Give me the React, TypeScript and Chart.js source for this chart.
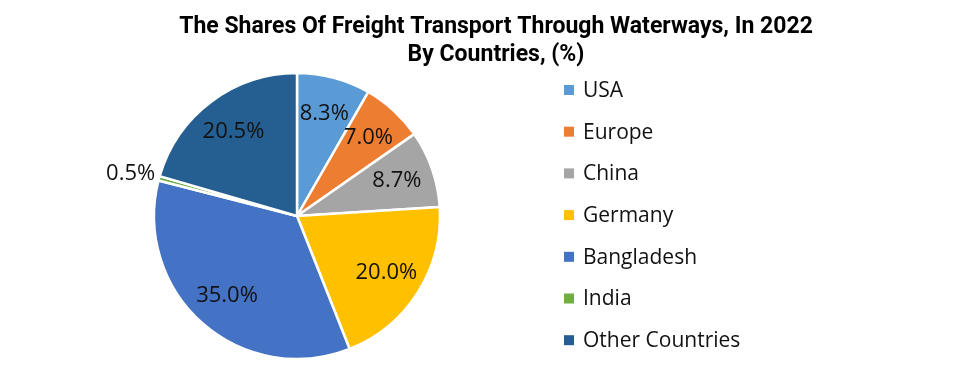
import React, { useEffect, useRef } from "react";
import { Chart, registerables } from "chart.js";

Chart.register(...registerables);

const TITLE_LINES = ["The Shares Of Freight Transport Through Waterways, In 2022", "By Countries, (%)"];
const CATEGORIES = ["USA", "Europe", "China", "Germany", "Bangladesh", "India", "Other Countries"];
const SHARES = [8.3, 7.0, 8.7, 20.0, 35.0, 0.5, 20.5];
const COLORS = ["#5B9BD5", "#ED7D31", "#A5A5A5", "#FFC000", "#4472C4", "#70AD47", "#255E91"];

const FONT = "'Open Sans', 'Noto Sans', sans-serif";

const overlayPlugin = {
  id: "overlay",
  afterDraw(chart: any) {
    const ctx = chart.ctx as CanvasRenderingContext2D;
    ctx.save();
    // Title
    ctx.fillStyle = "#000";
    ctx.font = `bold 23px Roboto, ${FONT}`;
    ctx.textAlign = "center";
    ctx.textBaseline = "middle";
    ctx.fillText(TITLE_LINES[0], 496, 27);
    ctx.fillText(TITLE_LINES[1], 496, 55);

    // Data labels
    const meta = chart.getDatasetMeta(0);
    const values = chart.data.datasets[0].data as number[];
    ctx.font = `22px ${FONT}`;
    ctx.fillStyle = "#111";
    meta.data.forEach((arc: any, i: number) => {
      const p = arc.getProps(["x", "y", "startAngle", "endAngle", "outerRadius"], true);
      const mid = (p.startAngle + p.endAngle) / 2;
      const txt = values[i].toFixed(1) + "%";
      if (values[i] < 2) {
        const r = p.outerRadius + 4;
        ctx.textAlign = "right";
        ctx.fillText(txt, p.x + Math.cos(mid) * r, p.y + Math.sin(mid) * r - 3);
      } else {
        const r = p.outerRadius * 0.74;
        ctx.textAlign = "center";
        ctx.fillText(txt, p.x + Math.cos(mid) * r, p.y + Math.sin(mid) * r);
      }
    });

    // Legend
    const labels = chart.data.labels as string[];
    const bg = chart.data.datasets[0].backgroundColor as string[];
    ctx.font = `21px ${FONT}`;
    ctx.textAlign = "left";
    labels.forEach((lab, i) => {
      const y = 90 + i * 41.7;
      ctx.fillStyle = bg[i];
      ctx.fillRect(564, y - 5, 10, 10);
      ctx.fillStyle = "#111";
      ctx.fillText(lab, 583, y + 1);
    });
    ctx.restore();
  },
};

export default function App() {
  const ref = useRef<HTMLCanvasElement>(null);
  useEffect(() => {
    if (!ref.current) return;
    const chart = new Chart(ref.current, {
      type: "pie",
      data: {
        labels: CATEGORIES,
        datasets: [
          {
            data: SHARES,
            backgroundColor: COLORS,
            borderColor: "#ffffff",
            borderWidth: 2.5,
            hoverOffset: 0,
            radius: 143,
          } as any,
        ],
      },
      options: {
        responsive: false,
        animation: false,
        layout: { padding: { left: 154, top: 73, right: 525, bottom: 9 } },
        plugins: {
          legend: { display: false },
          title: { display: false },
          tooltip: { enabled: false },
        },
      },
      plugins: [overlayPlugin],
    });
    return () => chart.destroy();
  }, []);
  return (
    <div style={{ position: "absolute", left: 0, top: 0, width: 965, height: 368, background: "#fff" }}>
      <canvas ref={ref} width={965} height={368} style={{ width: 965, height: 368 }} />
    </div>
  );
}
